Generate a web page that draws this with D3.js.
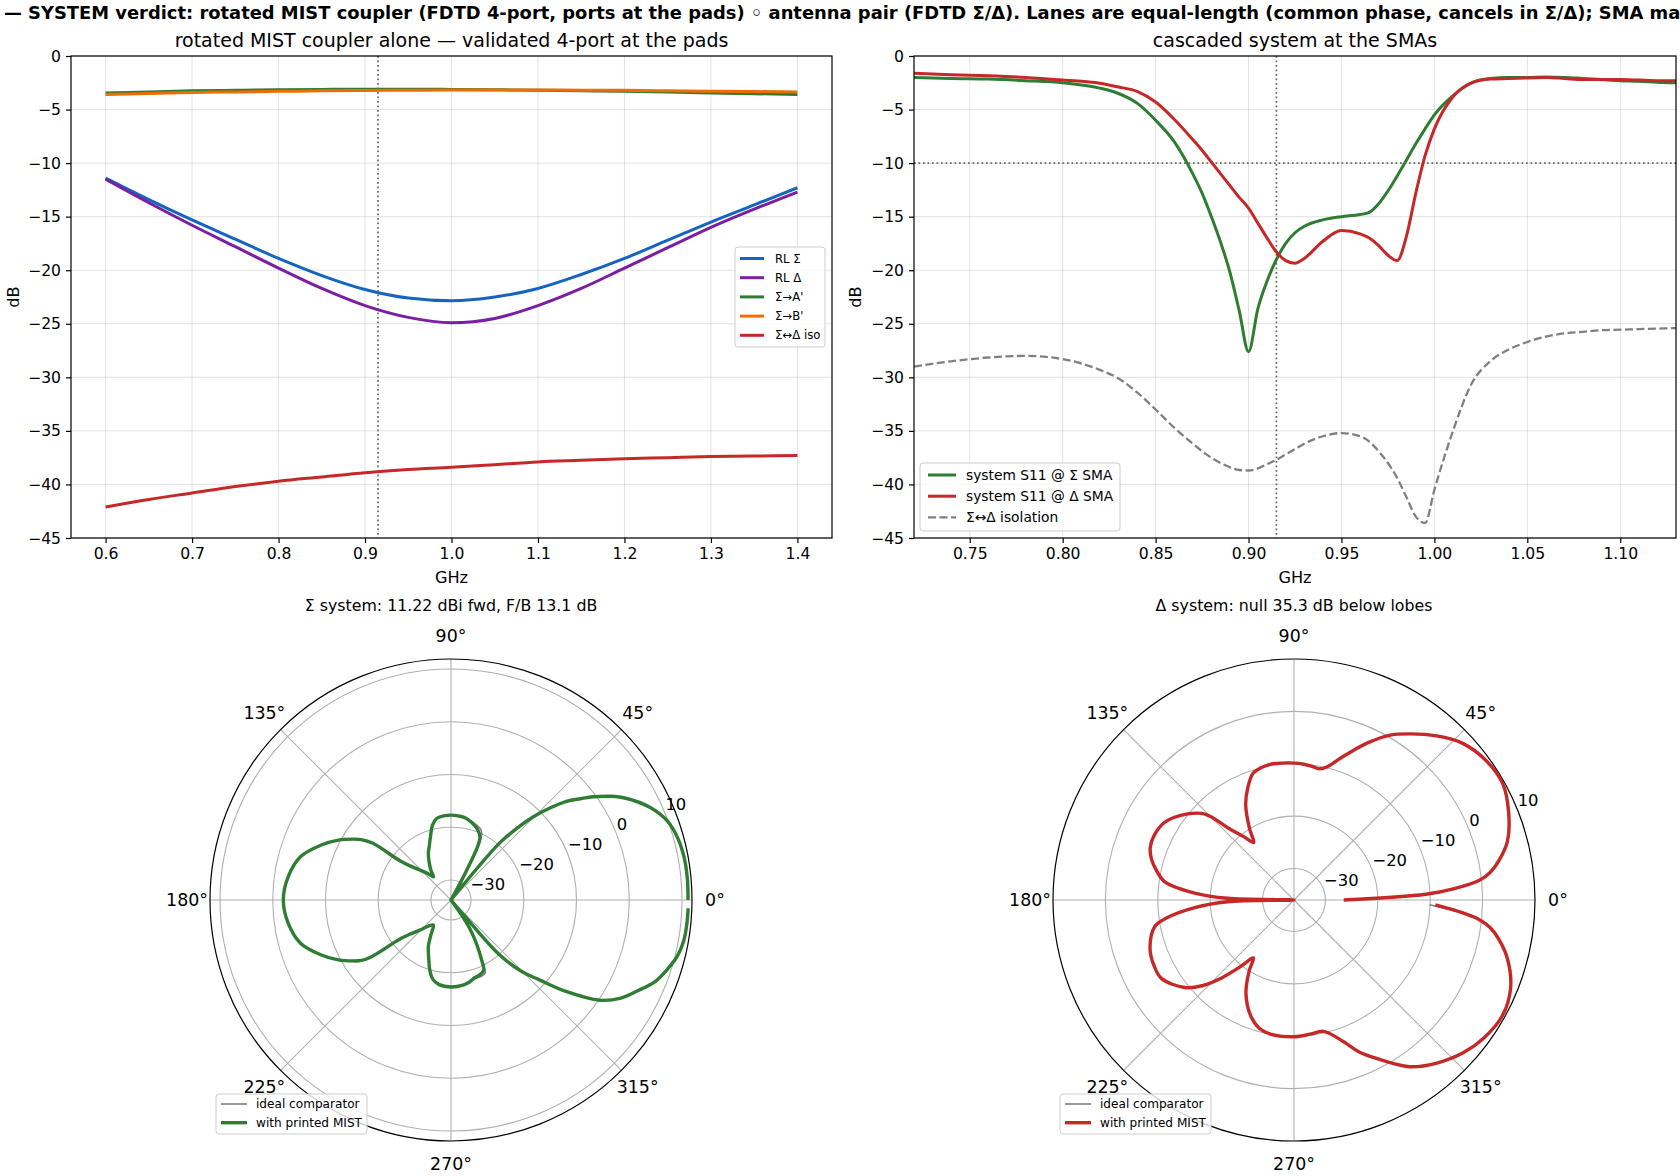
<!DOCTYPE html>
<html><head><meta charset="utf-8">
<script src="https://cdn.jsdelivr.net/npm/d3@7"></script>
<style>body{margin:0;background:#fff;} svg{display:block;font-family:"DejaVu Sans",sans-serif;}</style>
</head><body><svg id="fig" width="1680" height="1176"></svg>
<script>
// ---------------- DATA ----------------
const supTitle = "— SYSTEM verdict: rotated MIST coupler (FDTD 4-port, ports at the pads) ◦ antenna pair (FDTD Σ/Δ). Lanes are equal-length (common phase, cancels in Σ/Δ); SMA matched at the connectors";
const supVisible = "— SYSTEM verdict: rotated MIST coupler (FDTD 4-port, ports at the pads) ◦ antenna pair (FDTD Σ/Δ). Lanes are equal-length (common phase, cancels in Σ/Δ); SMA ma";

// top-left: coupler alone
const coupFreq = [0.60,0.65,0.70,0.75,0.80,0.85,0.90,0.95,1.00,1.05,1.10,1.15,1.20,1.25,1.30,1.35,1.40];
const rlSigma  = [-11.4,-13.4,-15.3,-17.1,-18.9,-20.5,-21.8,-22.6,-22.85,-22.5,-21.7,-20.4,-18.9,-17.2,-15.5,-13.9,-12.3];
const rlDelta  = [-11.5,-13.7,-15.8,-17.8,-19.8,-21.7,-23.3,-24.4,-24.9,-24.5,-23.3,-21.7,-19.8,-17.9,-16.0,-14.3,-12.7];
const sigToA   = [-3.45,-3.35,-3.25,-3.2,-3.15,-3.12,-3.1,-3.1,-3.12,-3.15,-3.2,-3.25,-3.3,-3.37,-3.45,-3.52,-3.6];
const sigToB   = [-3.6,-3.5,-3.4,-3.35,-3.3,-3.25,-3.22,-3.2,-3.18,-3.17,-3.18,-3.19,-3.2,-3.25,-3.3,-3.32,-3.35];
const isoCoup  = [-42.1,-41.4,-40.8,-40.2,-39.7,-39.3,-38.9,-38.6,-38.4,-38.15,-37.9,-37.75,-37.6,-37.5,-37.4,-37.35,-37.3];
const coupNames = ["RL Σ","RL Δ","Σ→A'","Σ→B'","Σ↔Δ iso"];
const coupTicksX = [0.6,0.7,0.8,0.9,1.0,1.1,1.2,1.3,1.4];

// top-right: cascaded system
const sysFreq  = [0.72,0.74,0.76,0.78,0.80,0.82,0.83,0.84,0.85,0.86,0.87,0.875,0.88,0.885,0.89,0.895,0.90,0.905,0.91,0.915,0.92,0.925,0.93,0.94,0.95,0.96,0.965,0.97,0.975,0.98,0.985,0.99,0.995,1.00,1.01,1.02,1.03,1.04,1.05,1.06,1.07,1.08,1.09,1.10,1.11,1.12,1.13];
const s11Sigma = [-2.0,-2.1,-2.15,-2.3,-2.5,-3.0,-3.5,-4.4,-6.0,-8.0,-11.0,-12.8,-15.0,-17.4,-20.2,-23.8,-27.6,-23.6,-21.0,-19.0,-17.5,-16.5,-15.9,-15.3,-15.0,-14.8,-14.6,-13.8,-12.6,-11.2,-9.7,-8.2,-6.8,-5.5,-3.7,-2.5,-2.1,-2.0,-2.0,-1.95,-2.0,-2.1,-2.2,-2.3,-2.35,-2.45,-2.5];
const s11Delta = [-1.6,-1.75,-1.85,-2.0,-2.25,-2.55,-2.9,-3.3,-4.3,-5.9,-7.8,-8.8,-9.9,-11.0,-12.1,-13.2,-14.2,-15.6,-17.0,-18.3,-19.1,-19.35,-18.9,-17.3,-16.3,-16.6,-17.0,-17.7,-18.6,-19.1,-16.8,-12.8,-9.3,-6.8,-3.8,-2.5,-2.15,-2.1,-2.05,-2.0,-2.1,-2.2,-2.2,-2.2,-2.25,-2.3,-2.3];
const isoSys   = [-29.0,-28.5,-28.15,-28.0,-28.3,-29.3,-30.1,-31.4,-33.0,-34.7,-36.2,-36.9,-37.5,-38.0,-38.4,-38.65,-38.7,-38.5,-38.1,-37.7,-37.2,-36.7,-36.2,-35.5,-35.2,-35.5,-36.0,-36.9,-38.0,-39.4,-41.2,-43.0,-43.6,-40.5,-35.0,-30.6,-28.5,-27.4,-26.7,-26.2,-25.9,-25.75,-25.6,-25.55,-25.5,-25.45,-25.4];
const sysNames = ["system S11 @ Σ SMA","system S11 @ Δ SMA","Σ↔Δ isolation"];
const sysTicksX = [0.75,0.80,0.85,0.90,0.95,1.00,1.05,1.10];

const dbTicks = [0,-5,-10,-15,-20,-25,-30,-35,-40,-45];
const fMarker = 0.915;
const rlLimit = -10;

// polar patterns (angle in degrees, gain in dBi)
const sigmaAng = [0,5,10,15,20,25,30,33,36,38,40.5,43,45.3,47.5,49.5,50.5,51,56,60.5,61.5,62.5,63.5,65,67,70,75,80,85,90,95,100,104,108,112,116,120,124,127,131,136,140,142.5,144,146,148,152,157,164,172,180,188,196,203,208,212,214,215.5,217.5,220,224,229,234.7,240,244,249,253,257,262,270,278,283,287,291,295,297,300,303,305,306,310,310.5,311.5,314.5,318,321.6,326,330,334.5,338,342,346,350,354,358];
const sigmaPrinted = [11.15,11.2,11.15,10.8,9.9,7.8,4.7,2.3,-0.5,-2.6,-5.0,-8.3,-11.6,-15.5,-19.5,-26,-40,-40,-40,-30,-26,-22.5,-20.8,-20.1,-19.4,-18.6,-18.0,-17.8,-17.7,-17.8,-18.1,-19.2,-21.2,-22.8,-24.0,-25.5,-27.0,-28.3,-27.2,-25.6,-23.8,-21.5,-15.5,-13.3,-12.0,-9.6,-7.1,-4.1,-2.6,-2.0,-2.6,-4.1,-7.1,-9.6,-12.0,-13.3,-15.3,-21.8,-23.8,-25.6,-27.2,-28.0,-26.2,-24.0,-22.0,-20.0,-18.4,-17.6,-17.3,-17.5,-17.9,-18.4,-18.6,-19.1,-21.0,-24.0,-27.0,-30.0,-40,-40,-30,-20.0,-15.0,-11.1,-5.8,0.2,3.4,5.8,7.8,9.2,10.4,11.0,11.15,11.2];
const sigmaIdeal = [11.15,11.2,11.15,10.8,9.9,7.8,4.7,2.3,-0.5,-2.6,-5.0,-8.3,-11.6,-15.5,-19.5,-26,-40,-40,-40,-30,-25.5,-21.8,-20.0,-19.3,-18.9,-18.4,-18.0,-17.8,-17.7,-17.8,-18.1,-19.2,-21.2,-22.8,-24.0,-25.5,-27.0,-28.3,-27.2,-25.6,-23.8,-21.5,-15.5,-13.3,-12.0,-9.6,-7.1,-4.1,-2.6,-2.0,-2.6,-4.1,-7.1,-9.6,-12.0,-13.3,-15.3,-21.8,-23.8,-25.6,-27.2,-28.0,-26.2,-24.0,-22.0,-20.0,-18.4,-17.6,-17.3,-17.5,-17.9,-18.2,-18.2,-18.5,-20.6,-23.6,-27.0,-30.0,-40,-40,-30,-20.0,-15.0,-11.1,-5.8,0.2,3.4,5.8,7.8,9.2,10.4,11.0,11.15,11.2];

const deltaAng = [0,2.5,4,6,8,11,15.5,22,29,36,43,49,55,60,64.5,68,72,76,79,83,88,93,100,104,108,112.5,117,122,125,128.5,132,136,141,149,155,160,164,168,172,176,178.5,180,181.5,184.4,188,190.7,198.6,205,210.6,218.7,223,227,231,235,237.7,242.7,249.5,255,260,270,276.9,282.7,289.2,293,297.5,304.7,311,317.9,324,331,338,344.5,349,352,354,356,358];
const deltaPrinted = [-26.5,-10.8,-5.5,-0.5,1.8,3.9,6.3,8.2,9.6,9.3,7.9,5.5,2.7,0.3,-2.6,-5.0,-7.6,-9.8,-10.5,-10.2,-9.9,-9.8,-9.7,-10.0,-10.6,-12.9,-15.7,-20.0,-22.6,-20.5,-17.9,-12.4,-9.9,-7.2,-6.6,-6.8,-7.7,-9.2,-11.1,-17.0,-23.3,-40,-23.3,-17.0,-11.5,-9.0,-7.0,-6.5,-6.6,-9.3,-12.0,-15.6,-19.5,-22.5,-20.0,-16.0,-12.4,-10.6,-10.0,-9.9,-10.2,-10.3,-7.4,-4.6,-1.9,2.7,5.3,7.5,8.8,9.5,8.6,6.3,3.9,1.8,-0.5,-4.5,-9.0];
const deltaIdeal = [-26.5,-10.8,-5.5,-0.5,1.8,3.9,6.3,8.2,9.6,9.3,7.9,5.5,2.7,0.3,-2.6,-5.0,-7.6,-9.8,-10.5,-10.2,-9.9,-9.8,-9.7,-10.0,-10.6,-12.9,-15.7,-20.0,-22.6,-20.5,-17.9,-12.4,-9.9,-7.2,-6.6,-6.8,-7.7,-9.2,-11.1,-17.0,-23.3,-40,-23.3,-17.0,-11.5,-9.0,-7.0,-6.5,-6.6,-9.3,-12.0,-15.6,-19.5,-22.5,-20.0,-16.0,-12.4,-10.6,-10.0,-9.9,-10.2,-10.3,-7.4,-4.6,-1.9,2.7,5.3,7.5,8.8,9.5,8.6,6.3,3.9,1.8,-0.5,-5.0,-10.1];
const polarRTicks = [-30,-20,-10,0,10];
const polarThetaTicks = [0,45,90,135,180,225,270,315];
const polarLegend = ["ideal comparator","with printed MIST"];

// ---------------- DRAW ----------------
const svg = d3.select("#fig");
const FONT = 15.6;
const GRID = "#b0b0b0";
const C = {blue:"#1565c0", purple:"#7b1fa2", green:"#2e7d32", orange:"#ef6c00", red:"#c62828", gray:"#808080"};
const minus = s => String(s).replace("-", "\u2212");

// suptitle
const st = svg.append("text").attr("x",4).attr("y",19).attr("font-weight","bold")
  .attr("font-size",17.5).text(supTitle);
try {
  const w = st.node().getSubStringLength(0, supVisible.length);
  let fs = 17.5 * 1678 / w; fs = Math.max(15, Math.min(21, fs));
  st.attr("font-size", fs);
} catch(e) {}

function cartPanel(o) {
  const g = svg.append("g");
  const x = d3.scaleLinear().domain(o.xdom).range([o.L, o.R]);
  const y = d3.scaleLinear().domain([-45, 0]).range([o.B, o.T]);
  // grid
  g.selectAll(".gx").data(o.xticks).join("line")
    .attr("x1", d=>x(d)).attr("x2", d=>x(d)).attr("y1", o.T).attr("y2", o.B)
    .attr("stroke", GRID).attr("stroke-opacity", 0.35).attr("stroke-width", 1);
  g.selectAll(".gy").data(dbTicks).join("line")
    .attr("y1", d=>y(d)).attr("y2", d=>y(d)).attr("x1", o.L).attr("x2", o.R)
    .attr("stroke", GRID).attr("stroke-opacity", 0.35).attr("stroke-width", 1);
  // reference lines
  g.append("line").attr("x1", x(fMarker)).attr("x2", x(fMarker)).attr("y1", o.T).attr("y2", o.B)
    .attr("stroke", "#666").attr("stroke-width", 1.7).attr("stroke-dasharray", "1.7,2.8");
  if (o.hline) g.append("line").attr("x1", o.L).attr("x2", o.R).attr("y1", y(rlLimit)).attr("y2", y(rlLimit))
    .attr("stroke", "#666").attr("stroke-width", 1.7).attr("stroke-dasharray", "1.7,2.8");
  // series
  const clipId = "clip" + o.L;
  svg.append("clipPath").attr("id", clipId).append("rect")
    .attr("x", o.L).attr("y", o.T).attr("width", o.R - o.L).attr("height", o.B - o.T);
  const sg = g.append("g").attr("clip-path", `url(#${clipId})`);
  o.series.forEach(s => {
    const line = d3.line().x((d,i)=>x(o.xs[i])).y(d=>y(d)).curve(d3.curveMonotoneX);
    sg.append("path").attr("d", line(s.v)).attr("fill","none").attr("stroke", s.c)
      .attr("stroke-width", s.w || 3.0).attr("stroke-dasharray", s.dash || null)
      .attr("stroke-linejoin","round");
  });
  // spines
  g.append("rect").attr("x", o.L).attr("y", o.T).attr("width", o.R-o.L).attr("height", o.B-o.T)
    .attr("fill","none").attr("stroke","#000").attr("stroke-width",1.2);
  // axes
  const ax = g.append("g").attr("transform", `translate(0,${o.B})`)
    .call(d3.axisBottom(x).tickValues(o.xticks).tickSize(5).tickPadding(5).tickFormat(o.xfmt));
  const ay = g.append("g").attr("transform", `translate(${o.L},0)`)
    .call(d3.axisLeft(y).tickValues(dbTicks).tickSize(5).tickPadding(5).tickFormat(d=>minus(d)));
  [ax, ay].forEach(a => {
    a.select(".domain").remove();
    a.selectAll("line").attr("stroke","#000").attr("stroke-width",1.2);
    a.selectAll("text").attr("font-size", FONT).attr("font-family","DejaVu Sans").attr("fill","#000");
  });
  // labels
  g.append("text").attr("x", (o.L+o.R)/2).attr("y", 47).attr("text-anchor","middle")
    .attr("font-size", 19).text(o.title);
  g.append("text").attr("x", (o.L+o.R)/2).attr("y", 583).attr("text-anchor","middle")
    .attr("font-size", 16.2).text("GHz");
  g.append("text").attr("transform", `translate(${o.ylabX},${(o.T+o.B)/2}) rotate(-90)`)
    .attr("text-anchor","middle").attr("dy","0.35em").attr("font-size", 16.2).text("dB");
  // legend
  const lg = o.legend;
  g.append("rect").attr("x", lg.x).attr("y", lg.y).attr("width", lg.w).attr("height", lg.h)
    .attr("rx", 3).attr("fill","#fff").attr("fill-opacity",0.8).attr("stroke","#cccccc").attr("stroke-width",1);
  o.series.forEach((s,i) => {
    const yy = lg.row0 + i*lg.dy;
    g.append("line").attr("x1", lg.hx0).attr("x2", lg.hx1).attr("y1", yy).attr("y2", yy)
      .attr("stroke", s.c).attr("stroke-width", s.w || 3.0).attr("stroke-dasharray", s.dash || null);
    g.append("text").attr("x", lg.tx).attr("y", yy).attr("dy","0.35em").attr("font-size", lg.fs).text(s.name);
  });
}

cartPanel({
  L:71, R:832, T:56, B:538, xdom:[0.56,1.44], xticks: coupTicksX, xfmt: d3.format(".1f"),
  xs: coupFreq, title: "rotated MIST coupler alone — validated 4-port at the pads", ylabX: 13, hline:false,
  series: [
    {v: rlSigma, c: C.blue, name: coupNames[0]},
    {v: rlDelta, c: C.purple, name: coupNames[1]},
    {v: sigToA, c: C.green, name: coupNames[2]},
    {v: sigToB, c: C.orange, name: coupNames[3]},
    {v: isoCoup, c: C.red, name: coupNames[4]}
  ],
  legend: {x:735, y:247, w:90, h:100, row0:258.5, dy:19.2, hx0:740, hx1:764, tx:775, fs:11.7}
});

cartPanel({
  L:914, R:1676, T:56, B:538, xdom:[0.72,1.13], xticks: sysTicksX, xfmt: d3.format(".2f"),
  xs: sysFreq, title: "cascaded system at the SMAs", ylabX: 855, hline:true,
  series: [
    {v: s11Sigma, c: C.green, name: sysNames[0]},
    {v: s11Delta, c: C.red, name: sysNames[1]},
    {v: isoSys, c: C.gray, name: sysNames[2], w: 2.3, dash: "8,3.5"}
  ],
  legend: {x:920, y:463, w:200, h:68, row0:475, dy:21.2, hx0:928, hx1:956, tx:966, fs:13.8}
});

function polarPanel(o) {
  const g = svg.append("g").attr("transform", `translate(${o.cx},${o.cy})`);
  const R = 241;
  const r = d3.scaleLinear().domain(o.rdom).range([0, R]).clamp(true);
  const rad = a => a * Math.PI / 180;
  // circles
  polarRTicks.filter(t => r(t) < R - 0.5).forEach(t => {
    g.append("circle").attr("r", r(t)).attr("fill","none").attr("stroke", GRID).attr("stroke-width",1.1);
  });
  polarThetaTicks.forEach(t => {
    g.append("line").attr("x1",0).attr("y1",0).attr("x2", R*Math.cos(rad(t))).attr("y2", -R*Math.sin(rad(t)))
      .attr("stroke", GRID).attr("stroke-width",1.1);
    const rr = R + 23;
    g.append("text").attr("x", rr*Math.cos(rad(t))).attr("y", -rr*Math.sin(rad(t)))
      .attr("text-anchor","middle").attr("dy","0.35em").attr("font-size", 17.4).text(t + "°");
  });
  g.append("circle").attr("r", R).attr("fill","none").attr("stroke","#000").attr("stroke-width",1.2);
  // radial labels at 22.5°
  polarRTicks.forEach(t => {
    const rr = Math.min(r(t), R);
    g.append("text").attr("x", rr*Math.cos(rad(22.5)) + 1).attr("y", -rr*Math.sin(rad(22.5)) - 2)
      .attr("font-size", 16.4).text(minus(t));
  });
  const line = d3.lineRadial().angle((d,i)=>rad(90 - o.ang[i])).radius(d=>r(d))
    .curve(d3.curveCatmullRom.alpha(0.5));
  g.append("path").attr("d", line(o.ideal)).attr("fill","none").attr("stroke", C.gray).attr("stroke-width",1.6);
  g.append("path").attr("d", line(o.printed)).attr("fill","none").attr("stroke", o.color).attr("stroke-width",3.4)
    .attr("stroke-linejoin","round");
  // title
  g.append("text").attr("x",0).attr("y", 605 - o.cy).attr("dy","0.35em").attr("text-anchor","middle")
    .attr("font-size", 15.8).text(o.title);
  // legend
  const lg = svg.append("g");
  lg.append("rect").attr("x", o.lx).attr("y", 1094).attr("width", 151).attr("height", 40).attr("rx",3)
    .attr("fill","#fff").attr("fill-opacity",0.8).attr("stroke","#cccccc").attr("stroke-width",1);
  [[C.gray,1.6],[o.color,3.4]].forEach((s,i) => {
    const yy = 1104 + i*18.7;
    lg.append("line").attr("x1", o.lx+5).attr("x2", o.lx+31).attr("y1", yy).attr("y2", yy)
      .attr("stroke", s[0]).attr("stroke-width", s[1]);
    lg.append("text").attr("x", o.lx+40).attr("y", yy).attr("dy","0.35em").attr("font-size",12.1).text(polarLegend[i]);
  });
}

polarPanel({cx:451, cy:900, rdom:[-33.8, 11.9], ang: sigmaAng, printed: sigmaPrinted, ideal: sigmaIdeal,
  color: C.green, title: "Σ system: 11.22 dBi fwd, F/B 13.1 dB", lx: 216});
polarPanel({cx:1294, cy:900, rdom:[-36.0, 10.0], ang: deltaAng, printed: deltaPrinted, ideal: deltaIdeal,
  color: C.red, title: "Δ system: null 35.3 dB below lobes", lx: 1060});
</script></body></html>
